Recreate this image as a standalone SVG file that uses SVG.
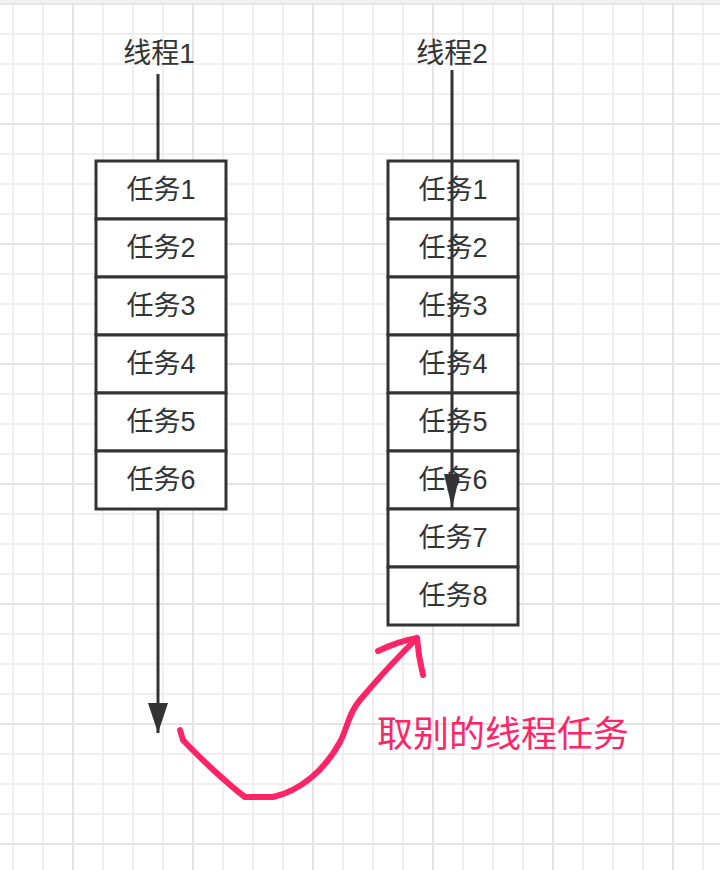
<svg xmlns="http://www.w3.org/2000/svg" width="720" height="870" viewBox="0 0 720 870">
  <style>
    .cell rect { fill: #ffffff; stroke: #333333; stroke-width: 3; }
    .cell text { font-family: "Liberation Sans", "Noto Sans CJK SC", sans-serif; font-size: 27px; fill: #333333; text-anchor: middle; }
    .title { font-family: "Liberation Sans", "Noto Sans CJK SC", sans-serif; font-size: 28px; fill: #333333; text-anchor: middle; }
    .edge { fill: none; stroke: #333333; stroke-width: 3; }
    .pink { fill: none; stroke: #ff2468; stroke-width: 6; stroke-linecap: round; stroke-linejoin: round; }
    .note { font-family: "Liberation Sans", "Noto Sans CJK SC", sans-serif; font-size: 36px; fill: #ff2468; text-anchor: middle; }
  </style>
  <defs>
    <pattern id="minor" patternUnits="userSpaceOnUse" x="12" y="3" width="30" height="30">
      <path d="M1,0 V30 M0,1 H30" stroke="#efefef" stroke-width="2" fill="none"/>
    </pattern>
    <pattern id="major" patternUnits="userSpaceOnUse" x="72" y="3" width="120" height="120">
      <path d="M1,0 V120 M0,1 H120" stroke="#e4e4e4" stroke-width="2" fill="none"/>
    </pattern>
    <marker id="head1" markerUnits="userSpaceOnUse" markerWidth="30" markerHeight="20" refX="30" refY="10" orient="auto" viewBox="0 0 30 20">
      <path d="M0,0 L30,10 L0,20 Z" fill="#333333"/>
    </marker>
    <marker id="head2" markerUnits="userSpaceOnUse" markerWidth="34" markerHeight="16" refX="34" refY="8" orient="auto" viewBox="0 0 34 16">
      <path d="M0,0 L34,8 L0,16 Z" fill="#333333"/>
    </marker>
  </defs>

  <rect x="0" y="0" width="720" height="870" fill="#ffffff"/>
  <rect x="0" y="0" width="720" height="870" fill="url(#minor)"/>
  <rect x="0" y="0" width="720" height="870" fill="url(#major)"/>
  <rect x="0" y="0" width="720" height="3" fill="#f2f2f2"/>

  <g id="thread1-title"><text class="title" x="159" y="63">线程1</text></g>
  <g id="thread2-title"><text class="title" x="452" y="63">线程2</text></g>

  <g id="thread1-tasks">
    <g id="t1-task1" class="cell"><rect x="96" y="161" width="130" height="58"/><text x="161" y="199">任务1</text></g>
    <g id="t1-task2" class="cell"><rect x="96" y="219" width="130" height="58"/><text x="161" y="257">任务2</text></g>
    <g id="t1-task3" class="cell"><rect x="96" y="277" width="130" height="58"/><text x="161" y="315">任务3</text></g>
    <g id="t1-task4" class="cell"><rect x="96" y="335" width="130" height="58"/><text x="161" y="373">任务4</text></g>
    <g id="t1-task5" class="cell"><rect x="96" y="393" width="130" height="58"/><text x="161" y="431">任务5</text></g>
    <g id="t1-task6" class="cell"><rect x="96" y="451" width="130" height="58"/><text x="161" y="489">任务6</text></g>
  </g>

  <g id="thread2-tasks">
    <g id="t2-task1" class="cell"><rect x="388" y="161" width="130" height="58"/><text x="453" y="199">任务1</text></g>
    <g id="t2-task2" class="cell"><rect x="388" y="219" width="130" height="58"/><text x="453" y="257">任务2</text></g>
    <g id="t2-task3" class="cell"><rect x="388" y="277" width="130" height="58"/><text x="453" y="315">任务3</text></g>
    <g id="t2-task4" class="cell"><rect x="388" y="335" width="130" height="58"/><text x="453" y="373">任务4</text></g>
    <g id="t2-task5" class="cell"><rect x="388" y="393" width="130" height="58"/><text x="453" y="431">任务5</text></g>
    <g id="t2-task6" class="cell"><rect x="388" y="451" width="130" height="58"/><text x="453" y="489">任务6</text></g>
    <g id="t2-task7" class="cell"><rect x="388" y="509" width="130" height="58"/><text x="453" y="547">任务7</text></g>
    <g id="t2-task8" class="cell"><rect x="388" y="567" width="130" height="58"/><text x="453" y="605">任务8</text></g>
  </g>

  <g id="connectors">
    <line class="edge" x1="158" y1="74" x2="158" y2="161"/>
    <line class="edge" x1="158" y1="509" x2="158" y2="733" marker-end="url(#head1)"/>
    <line class="edge" x1="452" y1="70" x2="452" y2="508" marker-end="url(#head2)"/>
    <path class="pink" d="M180,730 L183,740 C195,753 225,782 245,797 L273,797 C300,791 325,770 340,742 C348,727 348,714 360,700 C376,681 396,659 417,638"/>
    <path class="pink" d="M378,651 C393,644 405,640 417,638 C418,651 420,663 423,675"/>
  </g>

  <g id="note"><text class="note" x="503" y="747">取别的线程任务</text></g>
</svg>
